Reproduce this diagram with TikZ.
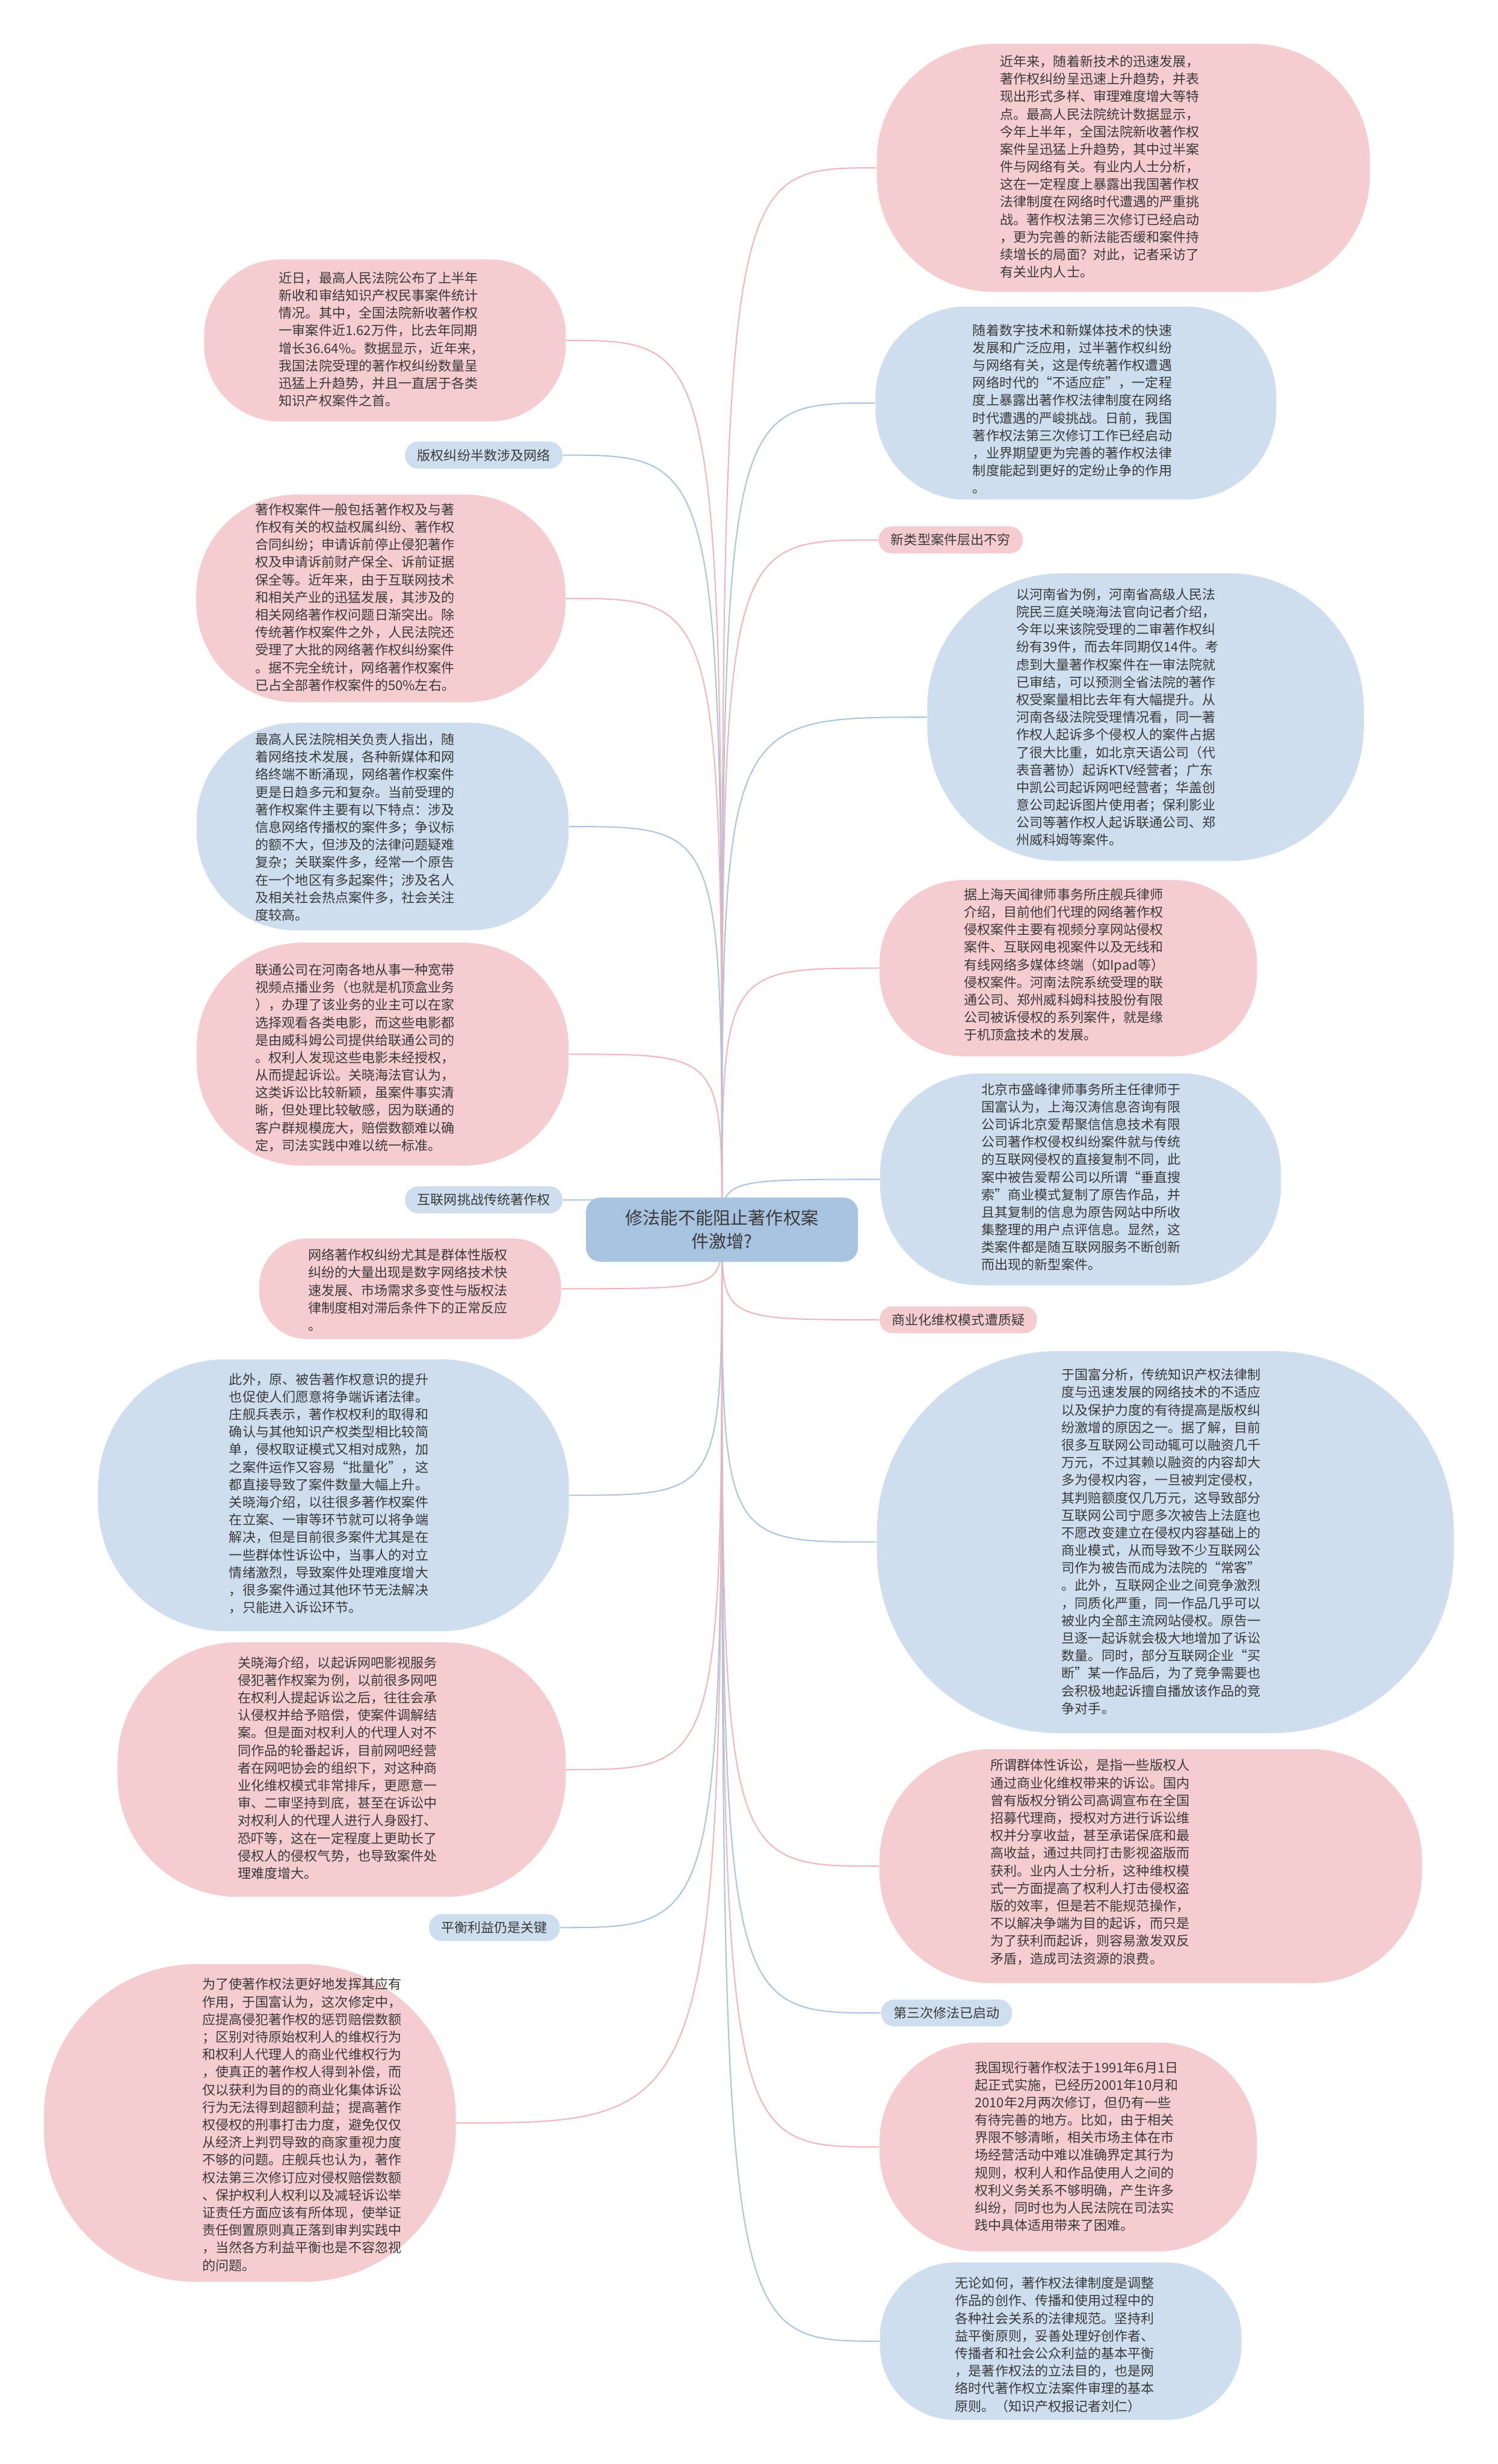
\documentclass[tikz,border=0pt]{standalone}
\usepackage{fontspec}
\newfontfamily\cjk{Noto Sans CJK SC}
\usepackage{tikz}
\usetikzlibrary{positioning}
\usepackage{xcolor}
\definecolor{cPink}{HTML}{F5CDD1}
\definecolor{cBlue}{HTML}{CEDEEE}
\definecolor{cRoot}{HTML}{A8C3DF}
\definecolor{cLinkPink}{HTML}{F0B4BD}
\definecolor{cLinkBlue}{HTML}{A9C4E0}
\definecolor{cInk}{HTML}{3A3A3A}

\begin{document}
\begin{tikzpicture}[
        bubpink/.style={fill=cPink,draw=none,inner sep=0pt},
        bubblue/.style={fill=cBlue,draw=none,inner sep=0pt},
        txt/.style={align=left,inner sep=0pt,text=cInk,font=\cjk\fontsize{6.46pt}{8.54pt}\selectfont},
        pill/.style={rounded corners=0.22cm,minimum height=0.46cm,inner xsep=0.21cm,inner ysep=0pt,text=cInk,font=\cjk\fontsize{6.46pt}{8.54pt}\selectfont},
        linkpink/.style={draw=cLinkPink,line width=0.6pt},
        linkblue/.style={draw=cLinkBlue,line width=0.6pt}
      ]
        \useasboundingbox (0,0) rectangle (25.60,-42.12);
        \fill[white] (0,0) rectangle (25.60,-42.12);

        % right side
        \node[bubpink,minimum width=8.43cm,minimum height=4.24cm,rounded corners=2cm] (r1) at (19.20,-2.87) {};
        \node[txt] (r1t) at (18.80,-2.85) {近年来，随着新技术的迅速发展，\\著作权纠纷呈迅速上升趋势，并表\\现出形式多样、审理难度增大等特\\点。最高人民法院统计数据显示，\\今年上半年，全国法院新收著作权\\案件呈迅猛上升趋势，其中过半案\\件与网络有关。有业内人士分析，\\这在一定程度上暴露出我国著作权\\法律制度在网络时代遭遇的严重挑\\战。著作权法第三次修订已经启动\\，更为完善的新法能否缓和案件持\\续增长的局面？对此，记者采访了\\有关业内人士。};

        \node[bubblue,minimum width=6.85cm,minimum height=3.30cm,rounded corners=1.55cm] (r2) at (18.39,-6.89) {};
        \node[txt] (r2t) at (18.33,-6.99) {随着数字技术和新媒体技术的快速\\发展和广泛应用，过半著作权纠纷\\与网络有关，这是传统著作权遭遇\\网络时代的“不适应症”，一定程\\度上暴露出著作权法律制度在网络\\时代遭遇的严峻挑战。日前，我国\\著作权法第三次修订工作已经启动\\，业界期望更为完善的著作权法律\\制度能起到更好的定纷止争的作用\\。};

        \node[pill,fill=cPink] (lnew) at (16.25,-9.23) {新类型案件层出不穷};

        \node[bubblue,minimum width=7.46cm,minimum height=4.92cm,rounded corners=2.3cm] (r4) at (19.58,-12.26) {};
        \node[txt] (r4t) at (19.10,-12.26) {以河南省为例，河南省高级人民法\\院民三庭关晓海法官向记者介绍，\\今年以来该院受理的二审著作权纠\\纷有39件，而去年同期仅14件。考\\虑到大量著作权案件在一审法院就\\已审结，可以预测全省法院的著作\\权受案量相比去年有大幅提升。从\\河南各级法院受理情况看，同一著\\作权人起诉多个侵权人的案件占据\\了很大比重，如北京天语公司（代\\表音著协）起诉KTV经营者；广东\\中凯公司起诉网吧经营者；华盖创\\意公司起诉图片使用者；保利影业\\公司等著作权人起诉联通公司、郑\\州威科姆等案件。};

        \node[bubpink,minimum width=6.45cm,minimum height=3.01cm,rounded corners=1.42cm] (r5) at (18.26,-16.55) {};
        \node[txt] (r5t) at (18.19,-16.49) {据上海天闻律师事务所庄舰兵律师\\介绍，目前他们代理的网络著作权\\侵权案件主要有视频分享网站侵权\\案件、互联网电视案件以及无线和\\有线网络多媒体终端（如Ipad等）\\侵权案件。河南法院系统受理的联\\通公司、郑州威科姆科技股份有限\\公司被诉侵权的系列案件，就是缘\\于机顶盒技术的发展。};

        \node[bubblue,minimum width=6.85cm,minimum height=3.62cm,rounded corners=1.7cm] (r6) at (18.47,-20.16) {};
        \node[txt] (r6t) at (18.48,-20.12) {北京市盛峰律师事务所主任律师于\\国富认为，上海汉涛信息咨询有限\\公司诉北京爱帮聚信信息技术有限\\公司著作权侵权纠纷案件就与传统\\的互联网侵权的直接复制不同，此\\案中被告爱帮公司以所谓“垂直搜\\索”商业模式复制了原告作品，并\\且其复制的信息为原告网站中所收\\集整理的用户点评信息。显然，这\\类案件都是随互联网服务不断创新\\而出现的新型案件。};

        \node[pill,fill=cPink] (lbiz) at (16.38,-22.56) {商业化维权模式遭质疑};

        \node[bubblue,minimum width=9.86cm,minimum height=6.53cm,rounded corners=3.1cm] (r8) at (19.92,-26.36) {};
        \node[txt] (r8t) at (19.85,-26.35) {于国富分析，传统知识产权法律制\\度与迅速发展的网络技术的不适应\\以及保护力度的有待提高是版权纠\\纷激增的原因之一。据了解，目前\\很多互联网公司动辄可以融资几千\\万元，不过其赖以融资的内容却大\\多为侵权内容，一旦被判定侵权，\\其判赔额度仅几万元，这导致部分\\互联网公司宁愿多次被告上法庭也\\不愿改变建立在侵权内容基础上的\\商业模式，从而导致不少互联网公\\司作为被告而成为法院的“常客”\\。此外，互联网企业之间竞争激烈\\，同质化严重，同一作品几乎可以\\被业内全部主流网站侵权。原告一\\旦逐一起诉就会极大地增加了诉讼\\数量。同时，部分互联网企业“买\\断”某一作品后，为了竞争需要也\\会积极地起诉擅自播放该作品的竞\\争对手。};

        \node[bubpink,minimum width=9.27cm,minimum height=4.00cm,rounded corners=1.9cm] (r9) at (19.67,-31.90) {};
        \node[txt] (r9t) at (18.63,-31.83) {所谓群体性诉讼，是指一些版权人\\通过商业化维权带来的诉讼。国内\\曾有版权分销公司高调宣布在全国\\招募代理商，授权对方进行诉讼维\\权并分享收益，甚至承诺保底和最\\高收益，通过共同打击影视盗版而\\获利。业内人士分析，这种维权模\\式一方面提高了权利人打击侵权盗\\版的效率，但是若不能规范操作，\\不以解决争端为目的起诉，而只是\\为了获利而起诉，则容易激发双反\\矛盾，造成司法资源的浪费。};

        \node[pill,fill=cBlue] (l3rd) at (16.18,-34.41) {第三次修法已启动};

        \node[bubpink,minimum width=6.45cm,minimum height=3.57cm,rounded corners=1.7cm] (r11) at (18.26,-36.70) {};
        \node[txt] (r11t) at (18.40,-36.69) {我国现行著作权法于1991年6月1日\\起正式实施，已经历2001年10月和\\2010年2月两次修订，但仍有一些\\有待完善的地方。比如，由于相关\\界限不够清晰，相关市场主体在市\\场经营活动中难以准确界定其行为\\规则，权利人和作品使用人之间的\\权利义务关系不够明确，产生许多\\纠纷，同时也为人民法院在司法实\\践中具体适用带来了困难。};

        \node[bubblue,minimum width=6.18cm,minimum height=2.69cm,rounded corners=1.28cm] (r12) at (18.13,-40.02) {};
        \node[txt] (r12t) at (18.03,-40.08) {无论如何，著作权法律制度是调整\\作品的创作、传播和使用过程中的\\各种社会关系的法律规范。坚持利\\益平衡原则，妥善处理好创作者、\\传播者和社会公众利益的基本平衡\\，是著作权法的立法目的，也是网\\络时代著作权立法案件审理的基本\\原则。（知识产权报记者刘仁）};

        % left side
        \node[bubpink,minimum width=6.18cm,minimum height=2.77cm,rounded corners=1.3cm] (l1) at (6.58,-5.82) {};
        \node[txt] (l1t) at (6.52,-5.80) {近日，最高人民法院公布了上半年\\新收和审结知识产权民事案件统计\\情况。其中，全国法院新收著作权\\一审案件近1.62万件，比去年同期\\增长36.64\%。数据显示，近年来，\\我国法院受理的著作权纠纷数量呈\\迅猛上升趋势，并且一直居于各类\\知识产权案件之首。};

        \node[pill,fill=cBlue] (lnet) at (8.27,-7.78) {版权纠纷半数涉及网络};

        \node[bubpink,minimum width=6.31cm,minimum height=3.55cm,rounded corners=1.7cm] (l3) at (6.51,-10.23) {};
        \node[txt] (l3t) at (6.07,-10.21) {著作权案件一般包括著作权及与著\\作权有关的权益权属纠纷、著作权\\合同纠纷；申请诉前停止侵犯著作\\权及申请诉前财产保全、诉前证据\\保全等。近年来，由于互联网技术\\和相关产业的迅猛发展，其涉及的\\相关网络著作权问题日渐突出。除\\传统著作权案件之外，人民法院还\\受理了大批的网络著作权纠纷案件\\。据不完全统计，网络著作权案件\\已占全部著作权案件的50\%左右。};

        \node[bubblue,minimum width=6.36cm,minimum height=3.55cm,rounded corners=1.7cm] (l4) at (6.54,-14.13) {};
        \node[txt] (l4t) at (6.07,-14.14) {最高人民法院相关负责人指出，随\\着网络技术发展，各种新媒体和网\\络终端不断涌现，网络著作权案件\\更是日趋多元和复杂。当前受理的\\著作权案件主要有以下特点：涉及\\信息网络传播权的案件多；争议标\\的额不大，但涉及的法律问题疑难\\复杂；关联案件多，经常一个原告\\在一个地区有多起案件；涉及名人\\及相关社会热点案件多，社会关注\\度较高。};

        \node[bubpink,minimum width=6.36cm,minimum height=3.81cm,rounded corners=1.8cm] (l5) at (6.54,-18.02) {};
        \node[txt] (l5t) at (6.07,-18.08) {联通公司在河南各地从事一种宽带\\视频点播业务（也就是机顶盒业务\\），办理了该业务的业主可以在家\\选择观看各类电影，而这些电影都\\是由威科姆公司提供给联通公司的\\。权利人发现这些电影未经授权，\\从而提起诉讼。关晓海法官认为，\\这类诉讼比较新颖，虽案件事实清\\晰，但处理比较敏感，因为联通的\\客户群规模庞大，赔偿数额难以确\\定，司法实践中难以统一标准。};

        \node[pill,fill=cBlue] (lchal) at (8.27,-20.51) {互联网挑战传统著作权};

        \node[bubpink,minimum width=5.16cm,minimum height=1.72cm,rounded corners=0.82cm] (l7) at (7.01,-22.03) {};
        \node[txt] (l7t) at (6.97,-22.05) {网络著作权纠纷尤其是群体性版权\\纠纷的大量出现是数字网络技术快\\速发展、市场需求多变性与版权法\\律制度相对滞后条件下的正常反应\\。};

        \node[bubblue,minimum width=8.05cm,minimum height=4.65cm,rounded corners=2.2cm] (l8) at (5.70,-25.56) {};
        \node[txt] (l8t) at (5.62,-25.53) {此外，原、被告著作权意识的提升\\也促使人们愿意将争端诉诸法律。\\庄舰兵表示，著作权权利的取得和\\确认与其他知识产权类型相比较简\\单，侵权取证模式又相对成熟，加\\之案件运作又容易“批量化”，这\\都直接导致了案件数量大幅上升。\\关晓海介绍，以往很多著作权案件\\在立案、一审等环节就可以将争端\\解决，但是目前很多案件尤其是在\\一些群体性诉讼中，当事人的对立\\情绪激烈，导致案件处理难度增大\\，很多案件通过其他环节无法解决\\，只能进入诉讼环节。};

        \node[bubpink,minimum width=7.66cm,minimum height=4.35cm,rounded corners=2.05cm] (l9) at (5.84,-30.25) {};
        \node[txt] (l9t) at (5.77,-30.22) {关晓海介绍，以起诉网吧影视服务\\侵犯著作权案为例，以前很多网吧\\在权利人提起诉讼之后，往往会承\\认侵权并给予赔偿，使案件调解结\\案。但是面对权利人的代理人对不\\同作品的轮番起诉，目前网吧经营\\者在网吧协会的组织下，对这种商\\业化维权模式非常排斥，更愿意一\\审、二审坚持到底，甚至在诉讼中\\对权利人的代理人进行人身殴打、\\恐吓等，这在一定程度上更助长了\\侵权人的侵权气势，也导致案件处\\理难度增大。};

        \node[pill,fill=cBlue] (lbal) at (8.45,-32.95) {平衡利益仍是关键};

        \node[bubpink,minimum width=7.04cm,minimum height=5.43cm,rounded corners=2.6cm] (l11) at (4.27,-36.29) {};
        \node[txt] (l11t) at (5.16,-36.32) {为了使著作权法更好地发挥其应有\\作用，于国富认为，这次修定中，\\应提高侵犯著作权的惩罚赔偿数额\\；区别对待原始权利人的维权行为\\和权利人代理人的商业代维权行为\\，使真正的著作权人得到补偿，而\\仅以获利为目的的商业化集体诉讼\\行为无法得到超额利益；提高著作\\权侵权的刑事打击力度，避免仅仅\\从经济上判罚导致的商家重视力度\\不够的问题。庄舰兵也认为，著作\\权法第三次修订应对侵权赔偿数额\\、保护权利人权利以及减轻诉讼举\\证责任方面应该有所体现，使举证\\责任倒置原则真正落到审判实践中\\，当然各方利益平衡也是不容忽视\\的问题。};

        % connectors from the hub
        \coordinate (hub) at (12.34,-21.02);
        \draw[linkpink] (hub) .. controls (hub |- r1.west) .. (r1.west);
        \draw[linkblue] (hub) .. controls (hub |- r2.west) .. (r2.west);
        \draw[linkpink] (hub) .. controls (hub |- lnew.west) .. (lnew.west);
        \draw[linkblue] (hub) .. controls (hub |- r4.west) .. (r4.west);
        \draw[linkpink] (hub) .. controls (hub |- r5.west) .. (r5.west);
        \draw[linkblue] (hub) .. controls (hub |- r6.west) .. (r6.west);
        \draw[linkpink] (hub) .. controls (hub |- lbiz.west) .. (lbiz.west);
        \draw[linkblue] (hub) .. controls (hub |- r8.west) .. (r8.west);
        \draw[linkpink] (hub) .. controls (hub |- r9.west) .. (r9.west);
        \draw[linkblue] (hub) .. controls (hub |- l3rd.west) .. (l3rd.west);
        \draw[linkpink] (hub) .. controls (hub |- r11.west) .. (r11.west);
        \draw[linkblue] (hub) .. controls (hub |- r12.west) .. (r12.west);
        \draw[linkpink] (hub) .. controls (hub |- l1.east) .. (l1.east);
        \draw[linkblue] (hub) .. controls (hub |- lnet.east) .. (lnet.east);
        \draw[linkpink] (hub) .. controls (hub |- l3.east) .. (l3.east);
        \draw[linkblue] (hub) .. controls (hub |- l4.east) .. (l4.east);
        \draw[linkpink] (hub) .. controls (hub |- l5.east) .. (l5.east);
        \draw[linkblue] (hub) .. controls (hub |- lchal.east) .. (lchal.east);
        \draw[linkpink] (hub) .. controls (hub |- l7.east) .. (l7.east);
        \draw[linkblue] (hub) .. controls (hub |- l8.east) .. (l8.east);
        \draw[linkpink] (hub) .. controls (hub |- l9.east) .. (l9.east);
        \draw[linkblue] (hub) .. controls (hub |- lbal.east) .. (lbal.east);
        \draw[linkpink] (hub) .. controls (hub |- l11.east) .. (l11.east);

        % root
        \node[fill=cRoot,rounded corners=0.25cm,minimum width=4.65cm,minimum height=1.10cm,align=center,inner sep=0pt,text=cInk,font=\cjk\fontsize{8.54pt}{11.4pt}\selectfont] (root) at (hub) {修法能不能阻止著作权案\\件激增?};
      \end{tikzpicture}
\end{document}
